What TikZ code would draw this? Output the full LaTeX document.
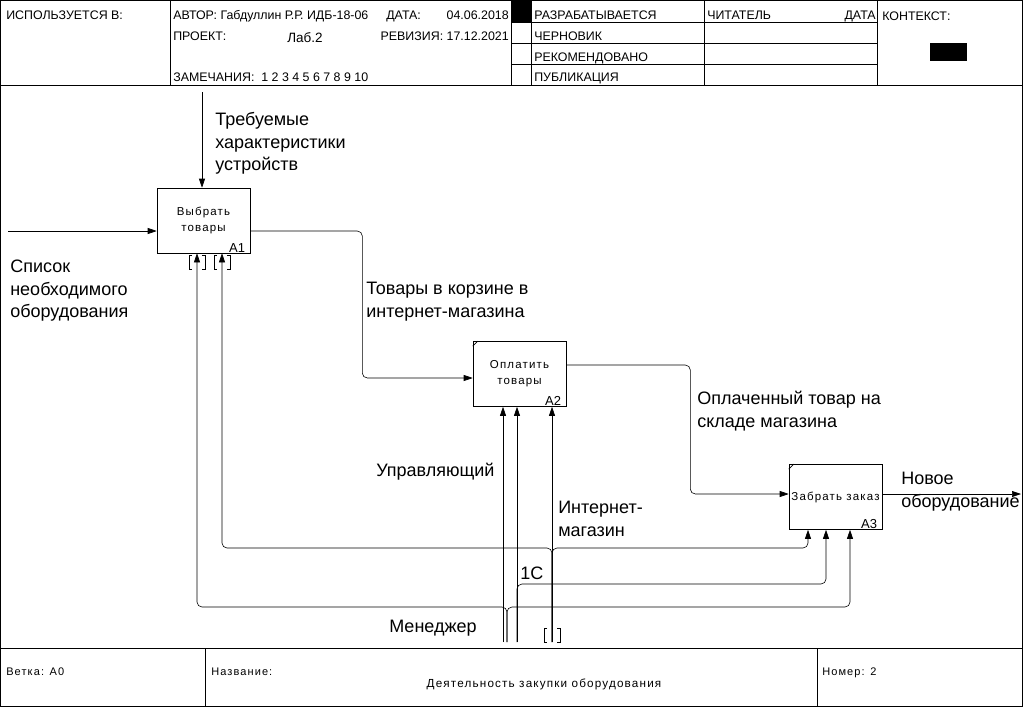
\documentclass[tikz,border=0pt]{standalone}
\usepackage{fontspec}
\setmainfont{Liberation Sans}
\newfontfamily\boxfont[LetterSpace=10]{Liberation Sans}
\usetikzlibrary{arrows.meta, calc}

\newcommand\hdrfont{\fontsize{12.4}{14}\selectfont}
\newcommand\lblfont{\fontsize{18}{22.5}\selectfont}

\begin{document}
\begin{tikzpicture}[
  x=1pt, y=-1pt,
  line width=0.6pt,
  box/.style={draw, minimum width=93pt, minimum height=65pt, align=center, inner sep=1pt, font=\boxfont\fontsize{11.5}{16}\selectfont},
  num/.style={anchor=south east, inner xsep=5pt, inner ysep=1pt, font=\fontsize{13}{13}\selectfont},
  arr/.style={-{Triangle[length=9pt, width=6pt]}, rounded corners=5pt},
  lbl/.style={anchor=north west, inner sep=0pt, align=left, font=\lblfont},
  hdr/.style={anchor=base west, inner sep=0pt, font=\hdrfont},
  ftr/.style={anchor=base west, inner sep=0pt, font=\boxfont\fontsize{11}{13}\selectfont},
  tunnel/.pic={\draw (-5,0) -- (-8,0) -- (-8,14) -- (-5,14) (5,0) -- (8,0) -- (8,14) -- (5,14);}
]
  \useasboundingbox (0,0) rectangle (1023,707);

  % Frame
  \draw (0.5,0.5) rectangle (1022.5,706.5);
  \draw (0.5,85) -- (1022.5,85);
  \draw (170,0.5) -- (170,85) (511,0.5) -- (511,85) (531,0.5) -- (531,85)
        (704,0.5) -- (704,85) (877,0.5) -- (877,85);
  \foreach \y in {22,43,64} \draw (511,\y) -- (877,\y);
  \fill (511,0.5) rectangle (531,22);
  \fill (930,43) rectangle (967,61);
  \draw (0.5,648) -- (1022.5,648) (205,648) -- (205,706.5) (817,648) -- (817,706.5);

  % Header
  \node[hdr] (used) at (6,19.5) {ИСПОЛЬЗУЕТСЯ В:};
  \node[hdr] (author) at (173,19.5) {АВТОР: Габдуллин Р.Р. ИДБ-18-06};
  \node[hdr] (date) at (386,19.5) {ДАТА:};
  \node[hdr, anchor=base east] (dateval) at (509,19.5) {04.06.2018};
  \node[hdr] (project) at (173,40.5) {ПРОЕКТ:};
  \node[hdr, anchor=base, font=\fontsize{13.5}{14}\selectfont] (projval) at (305,42) {Лаб.2};
  \node[hdr, anchor=base east] (rev) at (509,40.5) {РЕВИЗИЯ: 17.12.2021};
  \node[hdr] (notes) at (173,81.5) {ЗАМЕЧАНИЯ:\ \ 1 2 3 4 5 6 7 8 9 10};
  \node[hdr] (st1) at (534,19.5) {РАЗРАБАТЫВАЕТСЯ};
  \node[hdr] (st2) at (534,40.5) {ЧЕРНОВИК};
  \node[hdr] (st3) at (534,61.5) {РЕКОМЕНДОВАНО};
  \node[hdr] (st4) at (534,81.5) {ПУБЛИКАЦИЯ};
  \node[hdr] (reader) at (707,19.5) {ЧИТАТЕЛЬ};
  \node[hdr, anchor=base east] (rdate) at (876,19.5) {ДАТА};
  \node[hdr] (context) at (882,20.5) {КОНТЕКСТ:};

  % Footer
  \node[ftr] (node) at (6,675) {Ветка: А0};
  \node[ftr] (title) at (211,675) {Название:};
  \node[ftr, anchor=base, font=\boxfont\fontsize{11.7}{13}\selectfont] (titleval) at (544,687) {Деятельность закупки оборудования};
  \node[ftr] (number) at (822,675) {Номер: 2};

  % Activities
  \node[box] (A1) at (203.5,220.5) {Выбрать\\товары};
  \node[box] (A2) at (519.5,374) {Оплатить\\товары};
  \node[box] (A3) at (835.5,497) {Забрать заказ};
  \node[num] (A1n) at (A1.south east) {A1};
  \node[num] (A2n) at (A2.south east) {A2};
  \node[num] (A3n) at (A3.south east) {A3};
  \draw ([yshift=-5]A2.north west) -- ([xshift=5]A2.north west);
  \draw ([yshift=-5]A3.north west) -- ([xshift=5]A3.north west);

  % Control and input
  \coordinate (ctl) at (202,92);
  \coordinate (inp) at (8,231);
  \draw[arr] (ctl) -- (ctl |- A1.north);
  \draw[arr] (inp) -- (inp -| A1.west);

  % Outputs
  \coordinate (out) at (1021,494);
  \draw[arr] ([yshift=-10.5]A1.east) -- ++(112,0) |- ([yshift=-4]A2.west);
  \draw[arr] ([yshift=9]A2.east) -- ++(124,0) |- ([yshift=3]A3.west);
  \draw[arr] ([yshift=3]A3.east) -- (out);

  % Mechanisms
  \coordinate (upr) at (503,642);
  \coordinate (mgr) at (507,642);
  \coordinate (soft) at (517,642);
  \coordinate (inet) at (552,642);
  \draw[arr] (upr) -- (upr |- A2.south);
  \draw[arr] (soft) -- (soft |- A2.south);
  \draw[arr] (soft) -- ++(0,-58) -| ([xshift=-9.5]A3.south);
  \draw[arr] (inet) -- (inet |- A2.south);
  \draw[arr] (inet) -- ++(0,-94) -| ([xshift=18.5]A1.south);
  \draw[arr] (inet) -- ++(0,-94) -| ([xshift=-27.5]A3.south);
  \draw[arr] (mgr) -- ++(0,-35) -| ([xshift=-6.5]A1.south);
  \draw[arr] (mgr) -- ++(0,-35) -| ([xshift=14.5]A3.south);
  \pic at ([xshift=-6.5,yshift=-1.5]A1.south) {tunnel};
  \pic at ([xshift=18.5,yshift=-1.5]A1.south) {tunnel};
  \pic at (552,628) {tunnel};

  % Arrow labels
  \node[lbl] (lctl) at (215,112) {Требуемые\\характеристики\\устройств};
  \node[lbl] (linp) at (10,260) {Список\\необходимого\\оборудования};
  \node[lbl] (l12) at (366,282) {Товары в корзине в\\интернет-магазина};
  \node[lbl] (l23) at (697,391) {Оплаченный товар на\\складе магазина};
  \node[lbl] (lout) at (901,472) {Новое\\оборудование};
  \node[lbl] (lupr) at (376,463) {Управляющий};
  \node[lbl] (linet) at (558,501) {Интернет-\\магазин};
  \node[lbl] (lsoft) at (520,567) {1С};
  \node[lbl] (lmgr) at (389,620) {Менеджер};
\end{tikzpicture}
\end{document}
